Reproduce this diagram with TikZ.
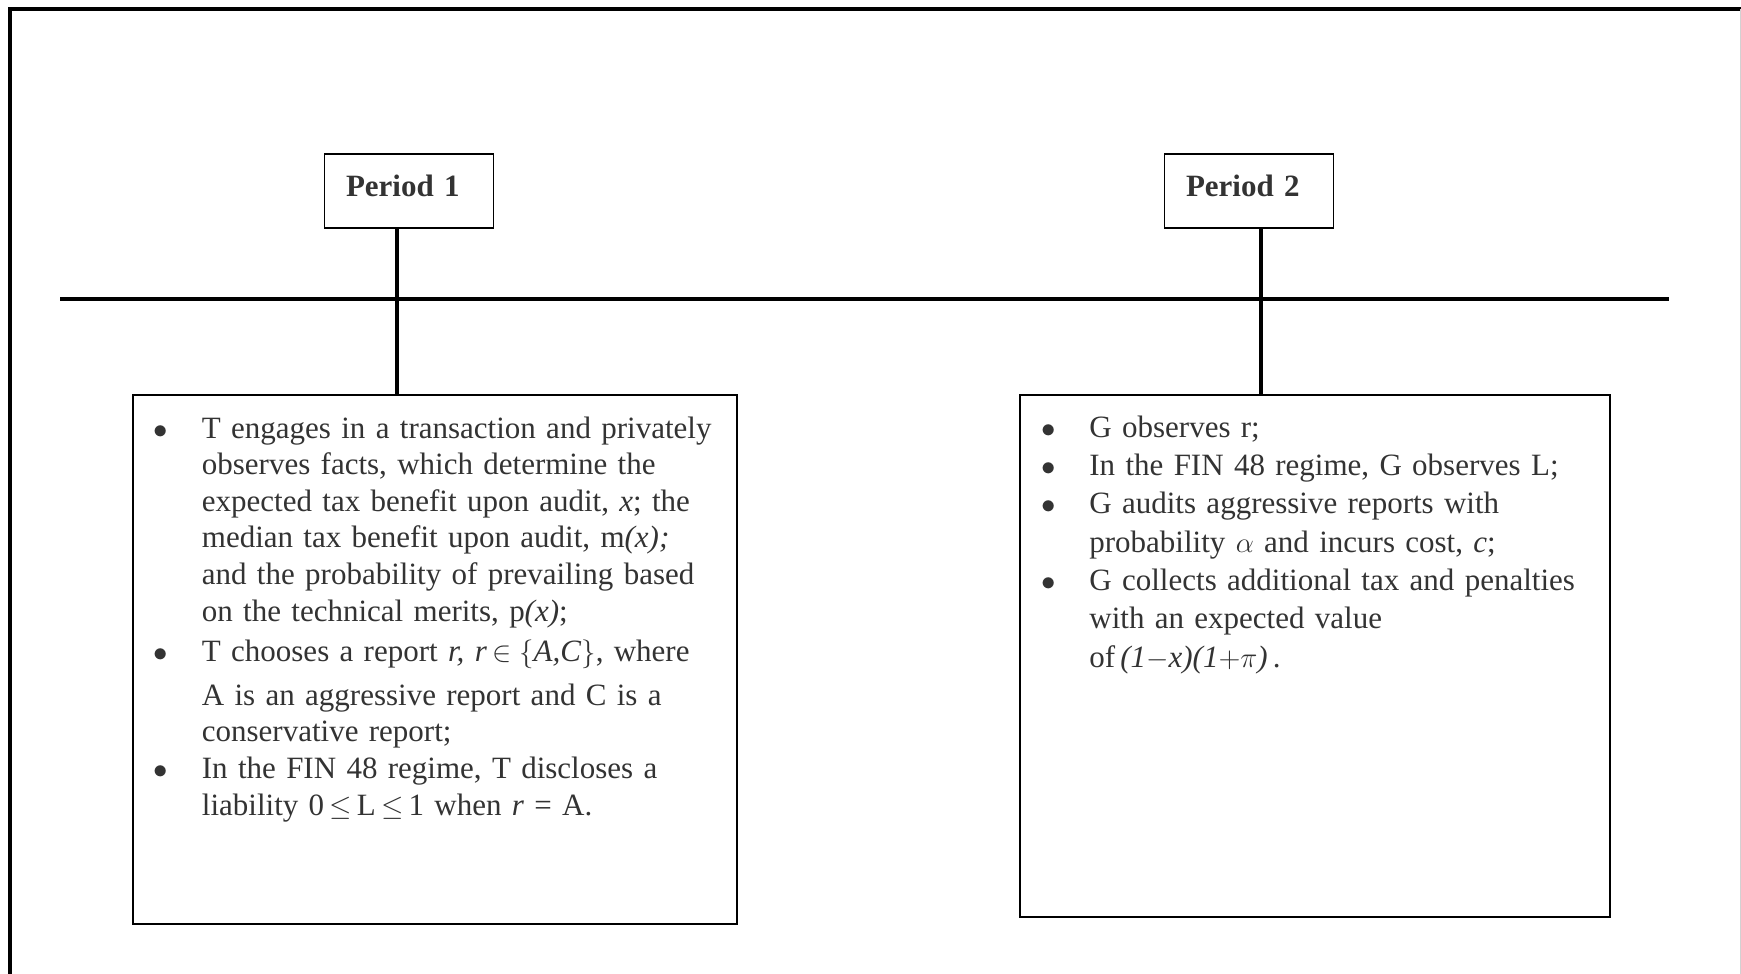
\documentclass[tikz,border=0pt]{standalone}
\usepackage{fontspec}
\setmainfont{Liberation Serif}
\usepackage{enumitem}
\usetikzlibrary{positioning}

\tikzset{
  frame/.style={line width=1.8pt},
  axis/.style={line width=1.6pt},
  period/.style={draw, line width=0.8pt, minimum width=84.5pt, minimum height=37pt,
    inner sep=0pt, text width=63pt, align=left, text depth=5.6pt, text=black!80,
    font=\fontsize{15.5}{18}\selectfont\bfseries},
  eventbox/.style={draw, line width=0.8pt},
  eventtext/.style={anchor=base west, inner sep=0pt, text width=285pt,
    align=left, text=black!80},
}

\newcommand{\bulletlist}[1]{%
  \begin{itemize}[leftmargin=20.5pt, labelsep=17pt, itemsep=0pt, topsep=0pt,
      parsep=0pt, partopsep=0pt, label=$\bullet$]
  #1
  \end{itemize}}

\begin{document}
\begin{tikzpicture}[x=0.5pt,y=-0.5pt]
  \useasboundingbox (0,0) rectangle (1741,974);
  % frame
  \draw[frame] (10,974) -- (10,9) -- (1741,9);
  \draw[gray!35, line width=0.5pt] (1740,9) -- (1740,974);

  % time line
  \coordinate (start) at (60,299);
  \coordinate (end) at (1669,299);
  \coordinate (tick1) at (397,299);
  \coordinate (tick2) at (1261,299);
  \draw[axis] (start) -- (end);

  \node[period] (p1) at (409,191) {Period 1};
  \node[period] (p2) at (1249,191) {Period 2};

  \node[eventbox, minimum width=302pt, minimum height=264.5pt] (b1) at (435,659.5) {};
  \node[eventbox, minimum width=295pt, minimum height=261pt] (b2) at (1315,656) {};

  \begin{scope}[axis]
    \draw (p1.south -| tick1) -- (tick1 |- b1.north);
    \draw (p2.south -| tick2) -- (tick2 |- b2.north);
  \end{scope}

  % period 1 events
  \node[eventtext, font=\fontsize{15.5}{18.3}\selectfont] (e1) at (160.5,401.5) {\bulletlist{%
    \item T engages in a transaction and privately\\
      observes facts, which determine the\\
      expected tax benefit upon audit, \textit{x}; the\\
      median tax benefit upon audit, m\textit{(x);}\\
      and the probability of prevailing based\\
      on the technical merits, p\textit{(x)};\vspace{2pt}
    \item T chooses a report \textit{r, r}\,$\in\bigl\{$\textit{A,C}$\bigr\}$, where\\[3.5pt]
      A is an aggressive report and C is a\\
      conservative report;
    \item In the FIN 48 regime, T discloses a\\
      liability 0\,$\leq$\,L\,$\leq$\,1 when \textit{r} = A.}};

  % period 2 events
  \node[eventtext, font=\fontsize{15.5}{19.15}\selectfont] (e2) at (1048,399) {\bulletlist{%
    \item G observes r;
    \item In the FIN 48 regime, G observes L;
    \item G audits aggressive reports with\\
      probability $\alpha$ and incurs cost, \textit{c};
    \item G collects additional tax and penalties\\
      with an expected value\\
      of\,\textit{(1}$-$\textit{x)(1}$+\pi$\textit{)}\,.}};
\end{tikzpicture}
\end{document}
